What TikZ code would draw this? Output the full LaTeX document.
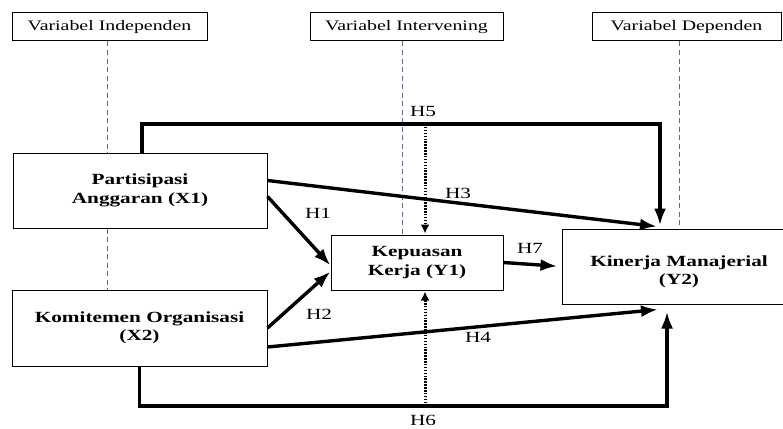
\documentclass[tikz,border=0pt]{standalone}
\usepackage{fontspec}
\setmainfont[FakeStretch=1.37]{Liberation Serif}
\usetikzlibrary{arrows.meta}
\tikzset{>={Latex[width=12pt,length=17pt]}}
\definecolor{guidegray}{rgb}{0.4,0.4,0.55}
\tikzset{
  varbox/.style={draw, line width=1pt, inner sep=0pt, minimum height=28pt,
    font=\fontsize{14.5}{16}\selectfont},
  conbox/.style={draw, line width=1pt, inner sep=0pt, align=center,
    font=\fontsize{15.5}{18.5}\selectfont\bfseries},
  guide/.style={draw=guidegray, line width=0.9pt, dash pattern=on 5pt off 3.5pt},
  hyp/.style={->, line width=3.4pt},
  hypdot/.style={-{Latex[width=9pt,length=9pt]}, line width=3pt,
    dash pattern=on 1.5pt off 1.4pt},
  hlabel/.style={font=\fontsize{15.5}{17}\selectfont}
}

\begin{document}
\begin{tikzpicture}[x=1pt, y=-1pt]
  \useasboundingbox (0,0) rectangle (783,428);

  \node[varbox, minimum width=195pt] (hind) at (109.5,27) {Variabel Independen};
  \node[varbox, minimum width=193pt] (hint) at (406.5,27) {Variabel Intervening};
  \node[varbox, minimum width=189pt] (hdep) at (686.5,27) {Variabel Dependen};

  \node[conbox, minimum width=254pt, minimum height=75pt] (x1) at (140,190.5)
    {Partisipasi\\Anggaran (X1)};
  \node[conbox, minimum width=255pt, minimum height=76pt] (x2) at (139.5,328)
    {Komitemen Organisasi\\(X2)};
  \node[conbox, minimum width=172pt, minimum height=55pt] (y1) at (417,262.5)
    {Kepuasan\\Kerja (Y1)};
  \node[conbox, minimum width=234pt, minimum height=75pt] (y2) at (679,266.5)
    {\rule{0pt}{21pt}Kinerja Manajerial\\(Y2)};

  % dashed guides under the headers
  \draw[guide] ([xshift=-2pt]hind.south) -- ([xshift=-2pt]hind.south |- x1.north);
  \draw[guide] ([xshift=-2pt]hind.south |- x1.south) -- ([xshift=-2pt]hind.south |- x2.north);
  \draw[guide] ([xshift=-4pt]hint.south) -- ([xshift=-4pt]hint.south |- y1.north);
  \draw[guide] ([xshift=-7pt]hdep.south) -- ([xshift=-7pt]hdep.south |- y2.north);

  \coordinate (c5) at (660,124);
  \coordinate (c6) at (667,406);
  \coordinate (d5) at (425,124);
  \coordinate (d6) at (425,406);

  \draw[hyp, shorten >=3pt] ([xshift=2pt]x1.north) |- (c5) -- (c5 |- y2.north);
  \draw[hyp, shorten >=7pt] (x2.south) |- (c6) -- (c6 |- y2.south);
  \draw[hypdot, shorten >=1pt] (d5) -- (d5 |- y1.north);
  \draw[hypdot, shorten >=1pt] (d6) -- (d6 |- y1.south);

  \draw[hyp] ([yshift=10pt]x1.east) -- ([xshift=-22pt, yshift=2pt]y2.north);
  \draw[hyp] ([yshift=-6pt]x1.east) -- ([yshift=-3pt]y1.west);
  \draw[hyp] (x2.east) -- ([yshift=-9pt]y1.west);
  \draw[hyp] ([yshift=-19pt]x2.east) -- ([xshift=-21pt, yshift=-5pt]y2.south);
  \draw[hyp, shorten >=4pt] (y1.east) -- (y2.west);

  \node[hlabel] (h1) at (318,213) {H1};
  \node[hlabel] (h2) at (319,314) {H2};
  \node[hlabel] (h3) at (458,193) {H3};
  \node[hlabel] (h4) at (478,337) {H4};
  \node[hlabel] (h5) at (423,111) {H5};
  \node[hlabel] (h6) at (423,420) {H6};
  \node[hlabel] (h7) at (530,248) {H7};
\end{tikzpicture}
\end{document}
